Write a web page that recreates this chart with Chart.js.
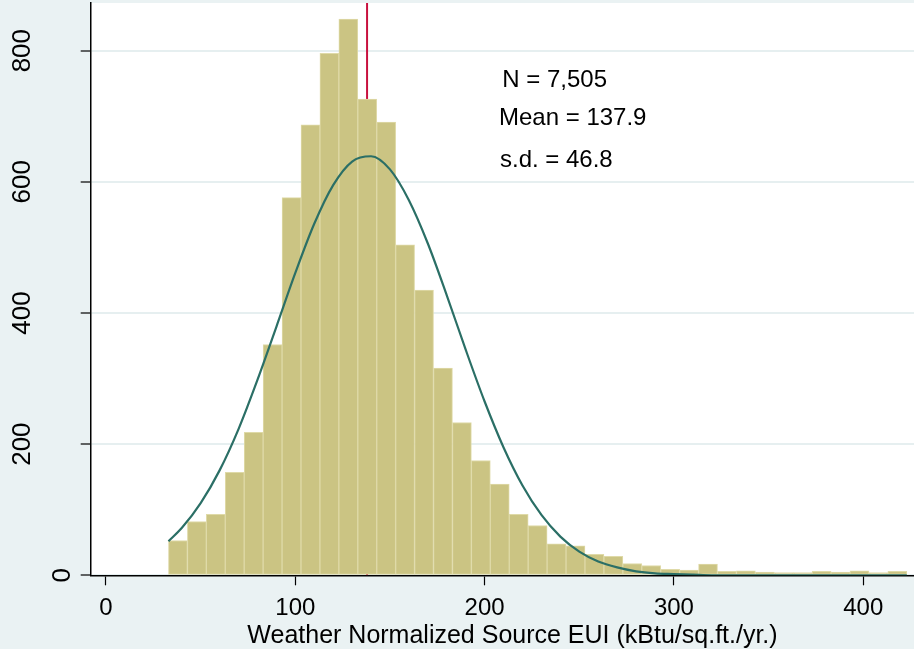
<!DOCTYPE html>
<html>
<head>
<meta charset="utf-8">
<script src="https://cdn.jsdelivr.net/npm/chart.js@4/dist/chart.umd.min.js"></script>
<style>
html,body{margin:0;padding:0;background:#EAF2F3;}
canvas{display:block;}
</style>
</head>
<body>
<canvas id="c" width="914" height="649"></canvas>
<script>
// ---- data ----
const binStarts = [33,43,53,63,73,83,93,103,113,123,133,143,153,163,173,183,193,203,213,223,233,243,253,263,273,283,293,303,313,323,333,343,353,363,373,383,393,403,413];
const binWidth = 10;
const counts = [53,82,93,157,218,352,576,687,796,848,726,691,504,435,316,233,175,139,93,76,48,45,32,29,18,15,9,8,17,6,7,5,4,4,6,5,7,4,6];
const curveX = [33,40,50,60,70,80,90,100,110,120,130,140,150,160,170,180,190,200,210,220,230,240,250,260,270,280,290,300,310,320,350,400,423];
const curveY = [52,72,110,160,223,298,379,461,536,595,631,639,619,572,506,427,344,265,195,137,92,59,36,21,12,6,3,2,1,0,0,0,0];
const meanValue = 137.9;
const statsLines = ["N = 7,505", "Mean = 137.9", "s.d. = 46.8"];
const xTickValues = [0,100,200,300,400];
const yTickValues = [0,200,400,600,800];
const xTitle = "Weather Normalized Source EUI (kBtu/sq.ft./yr.)";

// ---- layout / style ----
const FONT = '"Liberation Sans", Arial, Helvetica, sans-serif';
const X_MIN = -8.08, X_MAX = 426.8, Y_MIN = 0, Y_MAX = 872.7;
const statsPos = [[209.3, 744], [207.6, 686.6], [208.1, 622.1]]; // data coords (left, baseline)

const bgPlugin = {
  id: 'bg',
  beforeDraw(chart) {
    const {ctx, chartArea: a} = chart;
    ctx.save();
    ctx.fillStyle = '#EAF2F3';
    ctx.fillRect(0, 0, chart.width, chart.height);
    ctx.fillStyle = '#FFFFFF';
    ctx.fillRect(a.left, a.top, a.right - a.left, a.bottom - a.top);
    ctx.restore();
  }
};

const textPlugin = {
  id: 'texts',
  afterDraw(chart) {
    const {ctx} = chart;
    const xs = chart.scales.x, ys = chart.scales.y;
    ctx.save();
    ctx.fillStyle = '#000';
    // rotated y tick labels
    ctx.font = '26px ' + FONT;
    yTickValues.forEach(v => {
      const label = String(v);
      const w = ctx.measureText(label).width;
      const cx = 82 - 1.36 * w;
      const cy = ys.getPixelForValue(v);
      ctx.save();
      ctx.translate(cx, cy);
      ctx.rotate(-Math.PI / 2);
      ctx.textAlign = 'center';
      ctx.textBaseline = 'middle';
      ctx.fillText(label, 0, 0);
      ctx.restore();
    });
    // statistics text
    ctx.font = '24px ' + FONT;
    ctx.textAlign = 'left';
    ctx.textBaseline = 'alphabetic';
    statsLines.forEach((t, i) => {
      ctx.fillText(t, xs.getPixelForValue(statsPos[i][0]), ys.getPixelForValue(statsPos[i][1]));
    });
    // x axis title (plot region continues past the right edge of the picture)
    ctx.font = '25px ' + FONT;
    ctx.textAlign = 'center';
    ctx.fillText(xTitle, 512.5, 642.5);
    ctx.restore();
  }
};

new Chart(document.getElementById('c'), {
  type: 'bar',
  data: {
    datasets: [
      {
        type: 'bar',
        data: binStarts.map((s, i) => ({x: s + binWidth / 2, y: counts[i]})),
        backgroundColor: '#CBC483',
        borderColor: '#DFDAA8',
        borderWidth: 1,
        borderSkipped: false,
        barPercentage: 1,
        categoryPercentage: 1,
        order: 2
      },
      {
        type: 'line',
        data: curveX.map((x, i) => ({x: x, y: curveY[i]})),
        borderColor: '#2B6F66',
        borderWidth: 2.2,
        pointRadius: 0,
        fill: false,
        cubicInterpolationMode: 'monotone',
        order: 1
      },
      {
        type: 'line',
        data: [{x: meanValue, y: Y_MIN}, {x: meanValue, y: Y_MAX}],
        borderColor: '#C8103E',
        borderWidth: 2,
        pointRadius: 0,
        fill: false,
        order: 3
      }
    ]
  },
  options: {
    responsive: false,
    animation: false,
    events: [],
    layout: {padding: {top: 3, right: 0, bottom: 0, left: 0}},
    plugins: {legend: {display: false}, tooltip: {enabled: false}},
    scales: {
      x: {
        type: 'linear',
        min: X_MIN,
        max: X_MAX,
        offset: false,
        afterBuildTicks: s => { s.ticks = xTickValues.map(v => ({value: v})); },
        afterFit: s => { s.height = 73.7; },
        grid: {offset: false, drawOnChartArea: false, drawTicks: true, tickLength: 10, tickColor: '#000', tickWidth: 1.2},
        border: {display: true, color: '#000', width: 1.5},
        ticks: {color: '#000', font: {family: FONT, size: 24}, padding: 9, maxRotation: 0, autoSkip: false},
        title: {display: false}
      },
      y: {
        type: 'linear',
        min: Y_MIN,
        max: Y_MAX,
        afterBuildTicks: s => { s.ticks = yTickValues.map(v => ({value: v})); },
        afterFit: s => { s.width = 90.7; },
        grid: {color: '#E6EFF0', lineWidth: 2, drawTicks: true, tickLength: 10, tickColor: '#000', tickWidth: 1.2},
        border: {display: true, color: '#000', width: 1.5},
        ticks: {display: false}
      }
    }
  },
  plugins: [bgPlugin, textPlugin]
});
</script>
</body>
</html>
